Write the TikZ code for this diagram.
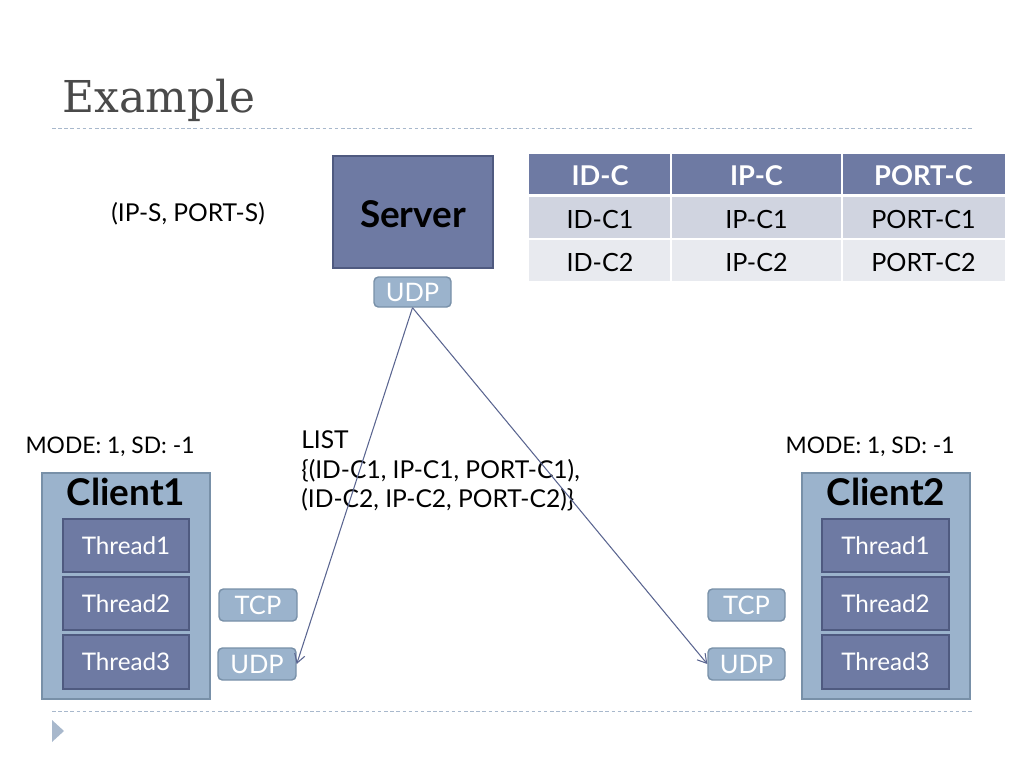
\documentclass[tikz,border=0pt]{standalone}
\usepackage{fontspec}
\setmainfont{Lato}
\newfontfamily\titlefont{DejaVu Serif}
\usetikzlibrary{arrows.meta}
\definecolor{slate}{HTML}{6E7AA3}
\definecolor{slateb}{HTML}{4F5A80}
\definecolor{pale}{HTML}{9BB3CC}
\definecolor{paleb}{HTML}{7890A8}
\definecolor{rowa}{HTML}{D0D4E0}
\definecolor{rowb}{HTML}{E8EAEF}
\definecolor{linec}{HTML}{5A6590}
\definecolor{dashc}{HTML}{A8B8CC}
\definecolor{titlec}{HTML}{4A4A4A}
\tikzset{
  px/.style={x=0.02cm,y=-0.02cm},
  darkbox/.style={draw=slateb,fill=slate,line width=0.8pt,inner sep=0pt},
  clientbox/.style={draw=paleb,fill=pale,line width=0.8pt,inner sep=0pt},
  proto/.style={draw=paleb,fill=pale,rounded corners=2.5pt,line width=0.8pt,inner sep=0pt,text=white,font=\fontsize{14.5}{17}\selectfont},
  thread/.style={darkbox,text=white,font=\fontsize{13.8}{16}\selectfont},
  lbl/.style={font=\fontsize{13}{16}\selectfont,inner sep=0pt},
  cell/.style={inner sep=0pt,font=\fontsize{14.3}{17}\selectfont},
  hcell/.style={inner sep=0pt,text=white,font=\bfseries\fontsize{15.5}{18}\selectfont},
  big/.style={inner sep=0pt,font=\bfseries\fontsize{21}{24}\selectfont},
  sep/.style={dashc,line width=0.5pt,dash pattern=on 2pt off 1.5pt},
  conn/.style={linec,line width=0.6pt,-{Straight Barb[length=5pt,width=6pt]}}
}
\begin{document}
\begin{tikzpicture}[px]
\useasboundingbox (0,0) rectangle (1024,768);
% title
\node[anchor=base west,inner sep=0pt,text=titlec,font=\titlefont\fontsize{25}{30}\selectfont] (title) at (62,112) {Example};
\draw[sep] (52,128) -- (972,128);
\draw[sep] (52,711) -- (972,711);
\fill[dashc] (52,720) -- (64,731) -- (52,742) -- cycle;
% server
\node[darkbox,minimum width=160*0.02cm,minimum height=112*0.02cm] (server) at (413,212) {};
\node[big] (servert) at (413,214) {Server};
\node[proto,minimum width=77*0.02cm,minimum height=30*0.02cm] (sudp) at (412.5,292) {UDP};
\node[lbl,font=\fontsize{14}{17}\selectfont] (ips) at (188,214) {(IP-S, PORT-S)};
% table
\fill[slate] (529,154) rectangle (1005,194);
\fill[rowa] (529,197) rectangle (1005,238);
\fill[rowb] (529,240) rectangle (1005,281);
\draw[white,line width=1.2pt] (671,154) -- (671,281) (842,154) -- (842,281);
\node[hcell] (h1) at (600,176) {ID-C};
\node[hcell] (h2) at (756.5,176) {IP-C};
\node[hcell] (h3) at (923.5,176) {PORT-C};
\node[cell] (a1) at (600,219) {ID-C1};
\node[cell] (a2) at (756.5,219) {IP-C1};
\node[cell] (a3) at (923.5,219) {PORT-C1};
\node[cell] (b1) at (600,262) {ID-C2};
\node[cell] (b2) at (756.5,262) {IP-C2};
\node[cell] (b3) at (923.5,262) {PORT-C2};
% clients
\node[clientbox,minimum width=168*0.02cm,minimum height=226*0.02cm] (c1) at (126,586) {};
\node[big] (c1t) at (126,492) {Client1};
\node[thread,minimum width=126*0.02cm,minimum height=53*0.02cm] (c1a) at (126,545.5) {Thread1};
\node[thread,minimum width=126*0.02cm,minimum height=53*0.02cm] (c1b) at (126,603.5) {Thread2};
\node[thread,minimum width=126*0.02cm,minimum height=54*0.02cm] (c1c) at (126,662) {Thread3};
\node[proto,minimum width=78*0.02cm,minimum height=32*0.02cm] (c1tcp) at (258,605) {TCP};
\node[proto,minimum width=78*0.02cm,minimum height=32*0.02cm] (c1udp) at (257,664) {UDP};
\node[lbl] (m1) at (110,447) {MODE: 1, SD: -1};

\node[clientbox,minimum width=168*0.02cm,minimum height=226*0.02cm] (c2) at (886,586) {};
\node[big] (c2t) at (886,492) {Client2};
\node[thread,minimum width=127*0.02cm,minimum height=53*0.02cm] (c2a) at (885.5,545.5) {Thread1};
\node[thread,minimum width=127*0.02cm,minimum height=53*0.02cm] (c2b) at (885.5,603.5) {Thread2};
\node[thread,minimum width=127*0.02cm,minimum height=54*0.02cm] (c2c) at (885.5,662) {Thread3};
\node[proto,minimum width=77*0.02cm,minimum height=32*0.02cm] (c2tcp) at (746.5,605) {TCP};
\node[proto,minimum width=77*0.02cm,minimum height=32*0.02cm] (c2udp) at (746.5,664) {UDP};
\node[lbl] (m2) at (870,447) {MODE: 1, SD: -1};

% list label
\node[lbl,anchor=north west,align=left,font=\fontsize{14}{17}\selectfont] (list) at (301,430) {LIST\\\{(ID-C1, IP-C1, PORT-C1),\\(ID-C2, IP-C2, PORT-C2)\}};
% connectors
\draw[conn] (sudp.south) -- (c1udp.east);
\draw[conn] (sudp.south) -- (c2udp.west);
\end{tikzpicture}
\end{document}
